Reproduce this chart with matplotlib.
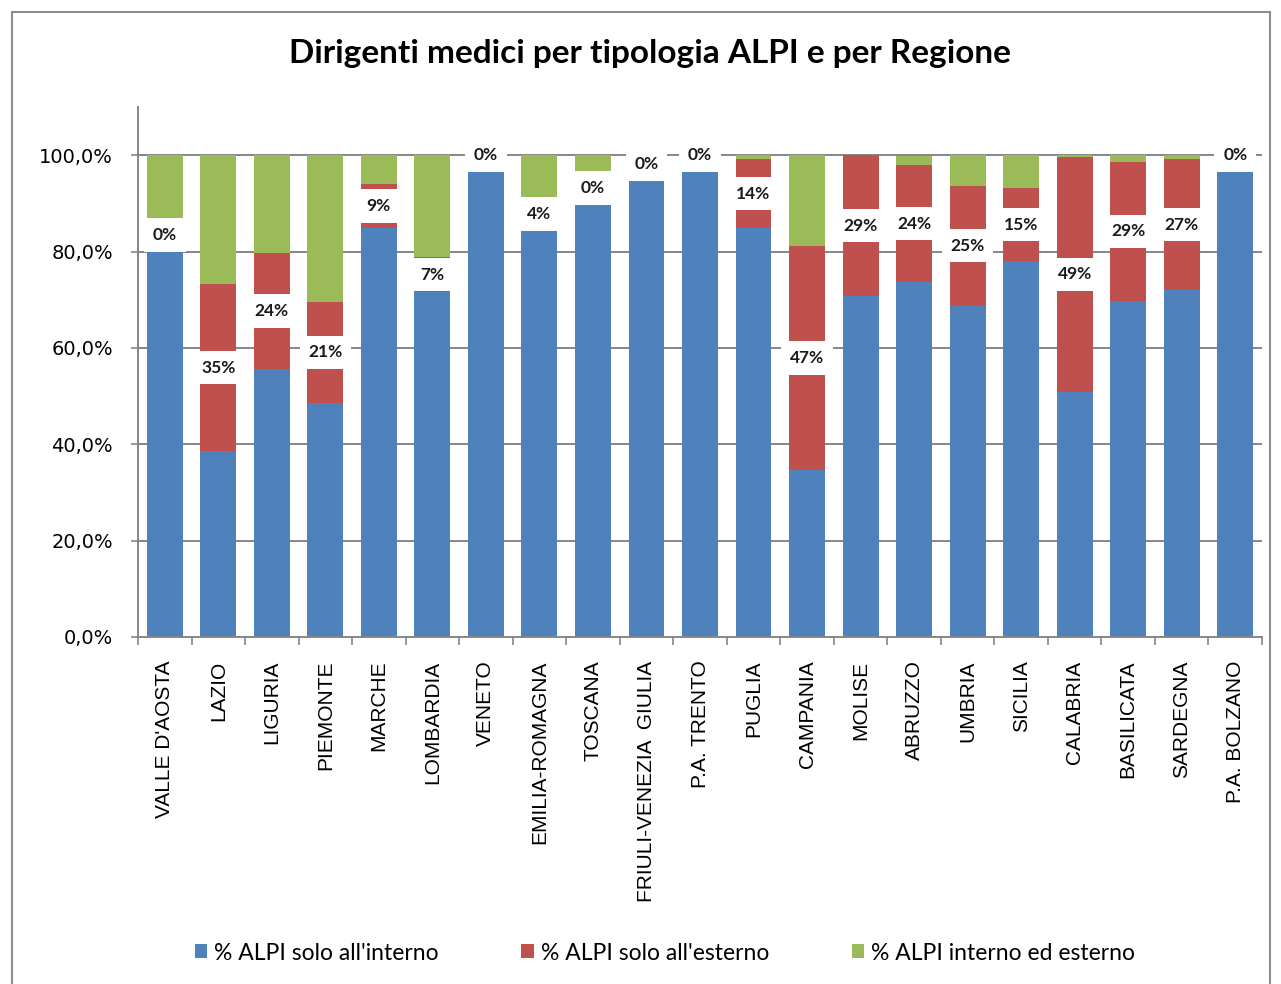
import numpy as np
import matplotlib
matplotlib.use("Agg")
from matplotlib import pyplot as plt
from matplotlib.patches import Rectangle

regioni = ["VALLE D'AOSTA", "LAZIO", "LIGURIA", "PIEMONTE", "MARCHE", "LOMBARDIA",
           "VENETO", "EMILIA-ROMAGNA", "TOSCANA", "FRIULI-VENEZIA  GIULIA", "P.A. TRENTO",
           "PUGLIA", "CAMPANIA", "MOLISE", "ABRUZZO", "UMBRIA", "SICILIA", "CALABRIA",
           "BASILICATA", "SARDEGNA", "P.A. BOLZANO"]

# % ALPI solo all'interno / solo all'esterno / interno ed esterno
interno = [83.4, 38.6, 55.7, 48.5, 84.8, 71.6, 100.0, 85.8, 93.2, 98.2, 100.0,
           84.8, 34.6, 70.8, 73.6, 68.8, 78.0, 50.9, 69.8, 72.0, 100.0]
esterno = [0.0, 34.6, 23.9, 21.1, 9.3, 7.2, 0.0, 4.0, 0.0, 0.0, 0.0,
           14.4, 46.6, 29.2, 24.4, 24.8, 15.2, 48.8, 28.8, 27.2, 0.0]
int_est = [16.6, 26.8, 20.4, 30.4, 5.9, 21.2, 0.0, 10.2, 6.8, 1.8, 0.0,
           0.8, 18.8, 0.0, 1.9, 6.4, 6.8, 0.3, 1.4, 0.8, 0.0]

serie = ["% ALPI solo all'interno", "% ALPI solo all'esterno", "% ALPI interno ed esterno"]
colori = ["#4F81BD", "#C0504D", "#9BBB59"]

W, H = 1281, 984
fig = plt.figure(figsize=(W / 100, H / 100), dpi=100)
ax = fig.add_axes([138 / W, 1 - 637 / H, (1262 - 138) / W, (637 - 107) / H])

x = np.arange(len(regioni))
b = np.array(interno)
r = np.array(esterno)
g = np.array(int_est)
bw = 0.67
ax.bar(x, b, bw, color=colori[0], label=serie[0], zorder=2)
ax.bar(x, r, bw, bottom=b, color=colori[1], label=serie[1], zorder=2)
ax.bar(x, g, bw, bottom=b + r, color=colori[2], label=serie[2], zorder=2)

# etichette valori (solo all'esterno), con riquadro bianco
for i in range(len(regioni)):
    ax.text(x[i], b[i] + r[i] / 2, "%.0f%%" % r[i], ha="center", va="center",
            fontsize=12.5, fontweight="bold", family="Lato", color="#1a1a1a", zorder=4,
            bbox=dict(boxstyle="square,pad=0.5", fc="white", ec="none"))

ax.set_xlim(-0.5, len(regioni) - 0.5)
ax.set_ylim(0, 110)
ax.set_yticks(np.arange(0, 101, 20))
ax.yaxis.set_major_formatter(plt.FuncFormatter(lambda v, p: ("%.1f%%" % v).replace(".", ",")))
for v in np.arange(20, 101, 20):
    ax.axhline(v, color="#868686", lw=1.4, zorder=1)

ax.set_xticks(x)
ax.set_xticklabels(regioni, rotation=90, fontsize=15, family="Liberation Sans", va="top")
ax.set_xticks(np.arange(-0.5, len(regioni), 1), minor=True)
ax.tick_params(axis="x", which="major", length=0, pad=17)
ax.tick_params(axis="x", which="minor", length=6, color="#868686", width=1.2)
ax.tick_params(axis="y", direction="inout", length=10, color="#868686", width=1.2,
               labelsize=14, pad=13)
for t in ax.get_yticklabels():
    t.set_family("DejaVu Sans")

for s in ["top", "right"]:
    ax.spines[s].set_visible(False)
for s in ["left", "bottom"]:
    ax.spines[s].set_color("#868686")
    ax.spines[s].set_linewidth(1.4)

fig.text(650 / W, 1 - 53 / H, "Dirigenti medici per tipologia ALPI e per Regione",
         ha="center", va="center", fontsize=24, fontweight="bold", family="Lato")

fig.legend(loc="center", bbox_to_anchor=(665 / W, 1 - 953 / H), ncol=3, frameon=False,
           prop={"family": "Lato", "size": 16.5}, handlelength=0.55, handleheight=0.55,
           handletextpad=0.3, columnspacing=3.6)

fig.patches.append(Rectangle((12 / W, -0.01), (1270 - 12) / W, (984 - 12) / H + 0.01,
                             transform=fig.transFigure, fill=False, ec="#8c8c8c", lw=1.5))

fig.savefig("out.png", dpi=100)
